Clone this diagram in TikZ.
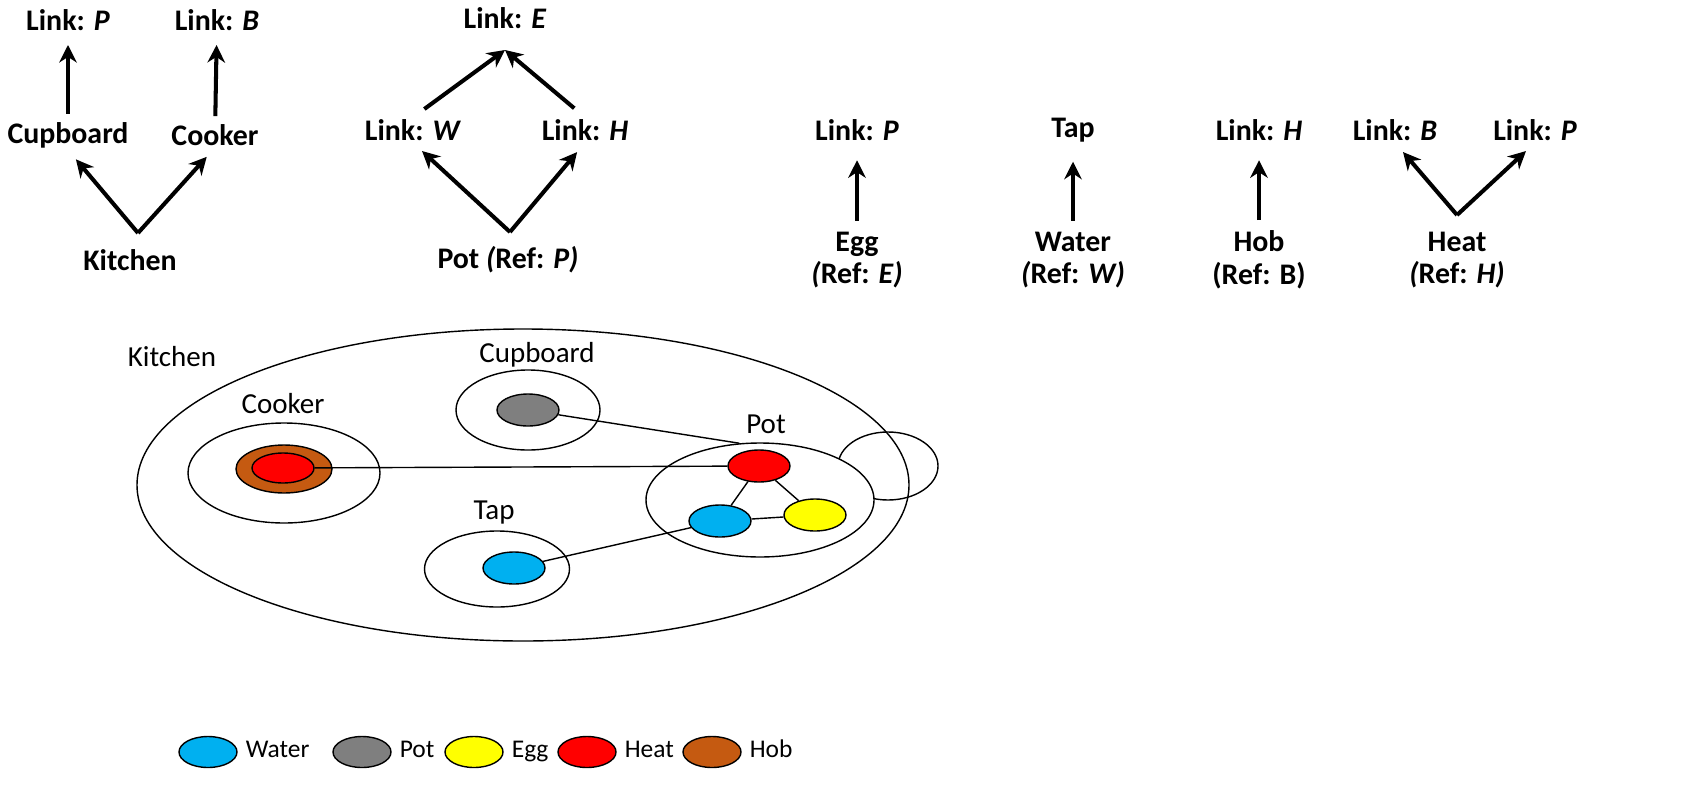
\documentclass[tikz,border=0pt]{standalone}
\usepackage{fontspec}
\setmainfont{Carlito}
\usetikzlibrary{calc,arrows.meta,shapes.geometric}

\definecolor{waterblue}{HTML}{00B0F0}
\definecolor{potgrey}{HTML}{7F7F7F}
\definecolor{eggyellow}{HTML}{FFFF00}
\definecolor{heatred}{HTML}{FF0000}
\definecolor{hobbrown}{HTML}{C55A11}
\newcommand{\pxl}{0.02cm}

\begin{document}
\begin{tikzpicture}[x=\pxl,y=-\pxl,
  tag/.style={font=\fontsize{17}{18.5}\selectfont\bfseries,align=center,inner sep=1pt},
  lab/.style={font=\fontsize{16.5}{19}\selectfont,inner sep=1pt},
  key/.style={font=\fontsize{14.5}{17}\selectfont,inner sep=1pt,anchor=west,text height=0.62em,text depth=0.04em},
  arr/.style={line width=2.3pt,-{Stealth[length=10pt,width=10pt]}},
  up/.style={arr,shorten <=5pt,shorten >=10pt},
  ring/.style 2 args={ellipse,draw,line width=0.8pt,inner sep=0pt,minimum width=#1*\pxl,minimum height=#2*\pxl},
  blob/.style={ring={62}{32},fill=#1},
  chip/.style={ring={58}{31},fill=#1}]
\useasboundingbox (0,0) rectangle (1699,784);

\node[tag] (lp1) at (68,20) {Link: \textit{P}};
\node[tag] (lb1) at (217,20) {Link: \textit{B}};
\node[tag] (cupb) at (68,135) {Cupboard};
\node[tag] (cook) at (215,135) {Cooker};
\node[tag] (kit) at (130,260) {Kitchen};
\coordinate (kapex) at (138,233);
\draw[arr,shorten <=3.5pt,shorten >=7pt] (cupb) -- (lp1);
\draw[arr,shorten <=3.5pt,shorten >=7pt] (cook) -- (lb1);
\draw[arr,shorten >=7pt] (kapex) -- (cupb.south);
\draw[arr,shorten >=7pt] (kapex) -- (cook.south);

\node[tag] (le) at (505,18) {Link: \textit{E}};
\node[tag] (lw) at (413,130) {Link: \textit{W}};
\node[tag] (lh) at (585,130) {Link: \textit{H}};
\node[tag] (potref) at (508,260) {Pot \textit{(}Ref: \textit{P)}};
\coordinate (etip) at (505,50);
\coordinate (papex) at (510,232);
\draw[arr,shorten <=8pt] (lw.north) -- (etip);
\draw[arr,shorten <=8pt] (lh.north) -- (etip);
\draw[arr,shorten >=7pt] (papex) -- (lw.south);
\draw[arr,shorten >=7pt] (papex) -- (lh.south);

\node[tag] (lp2) at (857,130) {Link: \textit{P}};
\node[tag] (egg) at (857,260) {Egg\\\textit{(}Ref: \textit{E)}};
\draw[up] (egg) -- (lp2);
\node[tag] (tap) at (1073,130) {Tap};
\node[tag] (water) at (1073,260) {Water\\\textit{(}Ref: \textit{W)}};
\draw[up] (water) -- (tap);
\node[tag] (lh2) at (1259,130) {Link: \textit{H}};
\node[tag] (hob) at (1259,260) {Hob\\(Ref: B)};
\draw[up] (hob) -- (lh2);
\node[tag] (lb2) at (1395,130) {Link: \textit{B}};
\node[tag] (lp3) at (1535,130) {Link: \textit{P}};
\node[tag] (heat) at (1457,260) {Heat\\\textit{(}Ref: \textit{H)}};
\coordinate (hapex) at (1457,215);
\draw[arr,shorten >=7pt] (hapex) -- (lb2.south);
\draw[arr,shorten >=7pt] (hapex) -- (lp3.south);

\node[ring={100}{68}] (knob) at (888,466) {};
\node[ring={772}{312}] (kring) at (523,485) {};
\node[ring={228}{114},fill=white] (pring) at (760,500) {};
\node[ring={144}{80}] (cbring) at (528,410) {};
\node[ring={192}{100}] (ckring) at (284,473) {};
\node[ring={145}{76}] (tring) at (497,569) {};
\node[lab] (kitlab) at (172,357) {Kitchen};
\node[lab] (cblab) at (537,355) {Cupboard};
\node[lab] (cklab) at (283,404) {Cooker};
\node[lab] (potlab) at (766,424) {Pot};
\node[lab] (taplab) at (494,513) {Tap};

\node[ring={96}{48},fill=hobbrown] (hobb) at (284,469) {};
\node[ring={62}{30},fill=heatred] (ckred) at (283,468) {};
\node[blob=potgrey] (cbgrey) at (528,410) {};
\node[blob=waterblue] (tblue) at (514,568) {};
\node[blob=heatred] (pred) at (759,466) {};
\node[blob=waterblue] (pblue) at (720,521) {};
\node[blob=eggyellow] (pyel) at (815,515) {};
\draw[line width=0.8pt] (ckred) -- (pred);
\draw[line width=0.8pt] (cbgrey) -- (pring.110);
\draw[line width=0.8pt] (tblue) -- (pblue);
\draw[line width=0.8pt] (pred) -- (pblue);
\draw[line width=0.8pt] (pred) -- (pyel);
\draw[line width=0.8pt] (pblue) -- (pyel);

\node[chip=waterblue] (kwater) at (208,752) {};
\node[key] (kwatert) at ($(kwater.east)+(6,0)$) {Water};
\node[chip=potgrey] (kpot) at (362,752) {};
\node[key] (kpott) at ($(kpot.east)+(6,0)$) {Pot};
\node[chip=eggyellow] (kegg) at (474,752) {};
\node[key] (keggt) at ($(kegg.east)+(6,0)$) {Egg};
\node[chip=heatred] (kheat) at (587,752) {};
\node[key] (kheatt) at ($(kheat.east)+(6,0)$) {Heat};
\node[chip=hobbrown] (khob) at (712,752) {};
\node[key] (khobt) at ($(khob.east)+(6,0)$) {Hob};
\end{tikzpicture}
\end{document}
